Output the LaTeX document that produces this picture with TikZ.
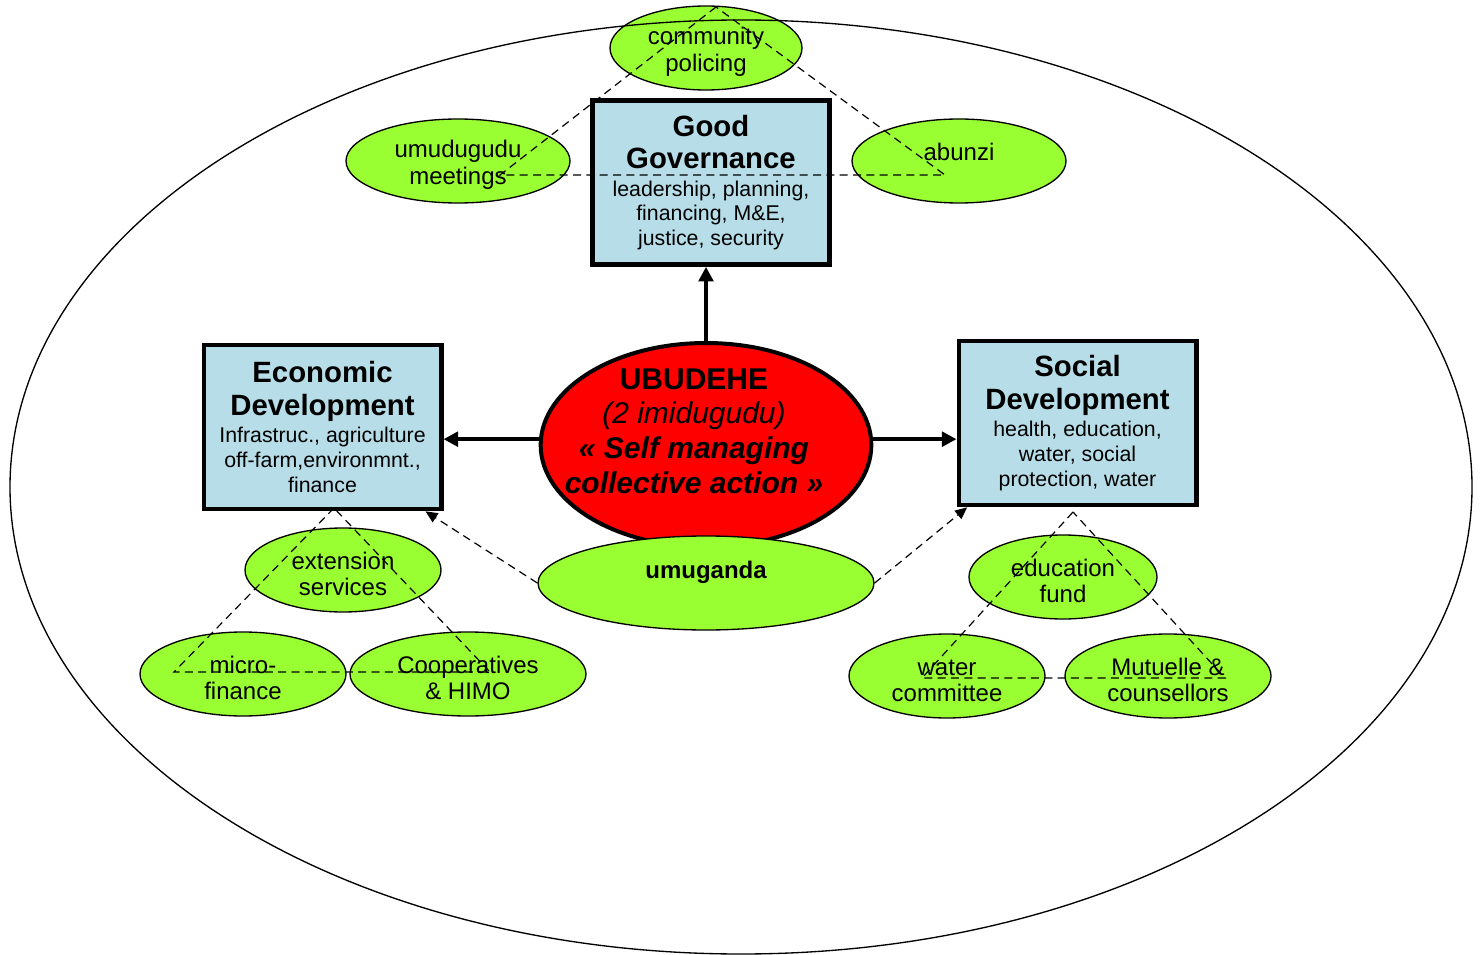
\documentclass[tikz,border=0pt]{standalone}
\usepackage{fontspec}
\setmainfont{Liberation Sans}
\usetikzlibrary{shapes.geometric,arrows.meta}

\definecolor{boxblue}{RGB}{183,222,232}
\definecolor{leafgreen}{RGB}{153,255,51}
\definecolor{corered}{RGB}{255,0,0}

\newcommand\boxtitle{\fontsize{22}{25}\selectfont\bfseries}
\newcommand\boxbody{\fontsize{16}{18.5}\selectfont}
\newcommand\ovaltext{\fontsize{18}{20}\selectfont}
\newcommand\coretext{\fontsize{22.5}{26}\selectfont}
\newcommand\ovalstrut{\rule{0pt}{19pt}}

\tikzset{
  pillar/.style={draw, line width=3.5pt, fill=boxblue, inner sep=0pt, align=center, font=\boxbody, minimum width=178pt, minimum height=123pt},
  leaf/.style={draw, line width=1pt, fill=leafgreen, ellipse, inner sep=0pt, align=center, font=\ovaltext, minimum height=63pt},
  thickarrow/.style={line width=3.2pt, -{Triangle[length=11pt,width=11pt]}},
  dasharrow/.style={line width=0.9pt, dash pattern=on 6pt off 4pt, -{Triangle[length=9pt,width=8pt]}},
  linkdash/.style={line width=0.9pt, dash pattern=on 6pt off 4pt},
}

\begin{document}
\begin{tikzpicture}[x=0.75pt,y=0.75pt,yscale=-1,xscale=1]
\useasboundingbox (0,0) rectangle (1481,955);

% small ovals round the pillars
\node [leaf, minimum width=144pt] (policing) at (706,48) {\ovalstrut community\\policing};
\node [leaf, minimum width=168pt] (meetings) at (458,161) {\ovalstrut umudugudu\\meetings};
\node [leaf, minimum width=160.5pt] (abunzi) at (959,161) {\ovalstrut abunzi\\\mbox{}};
\node [leaf, minimum width=147pt] (extension) at (343,570) {\ovalstrut extension\\services};
\node [leaf, minimum width=154.5pt] (microfinance) at (243,674) {\ovalstrut micro-\\finance};
\node [leaf, minimum width=177pt] (cooperatives) at (468,674) {\ovalstrut Cooperatives\\\& HIMO};
\node [leaf, minimum width=141pt] (edufund) at (1063,577) {\ovalstrut education\\fund};
\node [leaf, minimum width=147pt] (watercom) at (947,676) {\ovalstrut water\\committee};
\node [leaf, minimum width=154.5pt] (mutuelle) at (1168,676) {\ovalstrut Mutuelle \&\\counsellors};

% the three pillars
\node [pillar] (gov) at (711,182.5) {{\boxtitle Good}\\[6pt]{\boxtitle Governance}\\[2pt]leadership, planning,\\financing, M\&E,\\justice, security};
\node [pillar] (eco) at (322.5,427) {{\boxtitle Economic}\\[6pt]{\boxtitle Development}\\[2pt]Infrastruc., agriculture\\off-farm,environmnt.,\\finance};
\node [pillar] (soc) at (1077.5,423) {{\boxtitle Social}\\[6pt]{\boxtitle Development}\\[2pt]health, education,\\water, social\\protection, water};

% core
\node [draw, line width=3pt, fill=corered, ellipse, inner sep=0pt, minimum width=248pt, minimum height=153pt] (ubudehe) at (706,445) {};
\node [align=center, font=\coretext] (ubudehetext) at (694,431) {{\bfseries UBUDEHE}\\{\itshape (2 imidugudu)}\\{\bfseries\itshape « Self managing}\\{\bfseries\itshape collective action »}};
\node [leaf, minimum width=252pt, minimum height=70.5pt, font=\fontsize{18}{20}\selectfont\bfseries] (umuganda) at (706,583) {umuganda\\\mbox{}};

% arrows
\draw [thickarrow] (ubudehe.north) -- (ubudehe.north |- gov.south);
\draw [thickarrow] (ubudehe.178) -- (ubudehe.178 -| eco.east);
\draw [thickarrow] (ubudehe.2) -- (ubudehe.2 -| soc.west);
\draw [dasharrow] (umuganda.west) -- ([xshift=-13.5pt]eco.south east);
\draw [dasharrow] (umuganda.east) -- ([xshift=8pt]soc.south west);

% outer ellipse
\draw [line width=1pt] (741,487) ellipse [x radius=731, y radius=467];

% dashed triangles
\coordinate (govtop) at (716,7);
\coordinate (govleft) at (500,175);
\coordinate (govright) at (945,175);
\draw [linkdash] (govtop) -- (govleft) -- (govright) -- cycle;
\coordinate (ecotop) at (334,508);
\coordinate (ecoleft) at (174,672);
\coordinate (ecoright) at (490,672);
\draw [linkdash] (ecotop) -- (ecoleft) -- (ecoright) -- cycle;
\coordinate (soctop) at (1073,512);
\coordinate (socleft) at (922,678);
\coordinate (socright) at (1225,678);
\draw [linkdash] (soctop) -- (socleft) -- (socright) -- cycle;

\end{tikzpicture}
\end{document}
